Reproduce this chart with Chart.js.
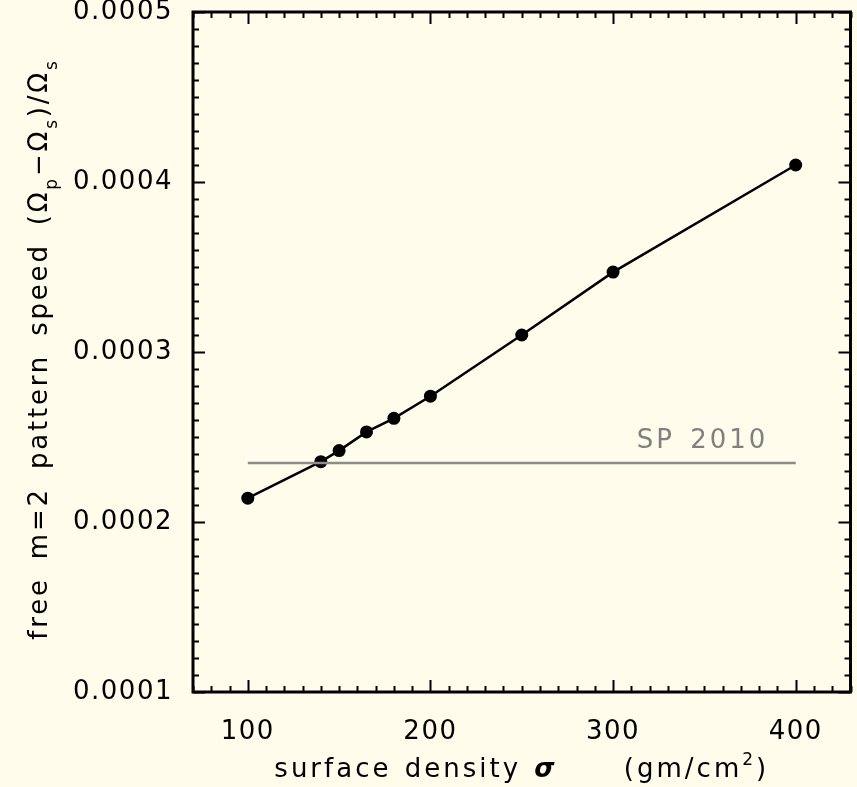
<!DOCTYPE html>
<html lang="en">
<head>
<meta charset="UTF-8">
<title>Pattern speed vs surface density</title>
<script src="https://cdn.jsdelivr.net/npm/chart.js"></script>
<style>
  html, body { margin: 0; padding: 0; background: #fffcec; }
  #wrap { width: 857px; height: 787px; }
</style>
</head>
<body>
<div id="wrap"><canvas id="chart" width="857" height="787"></canvas></div>
<script>
// surface density (gm/cm^2) and free m=2 pattern speed
const sigma = [100, 140, 150, 165, 180, 200, 250, 300, 400];
const patternSpeed = [0.000214, 0.0002355, 0.000242, 0.000253, 0.000261, 0.000274, 0.00031, 0.000347, 0.00041];

// SP 2010 reference level
const spSigma = [100, 400];
const spLevel = [0.0002347, 0.0002347];
const spLabel = 'SP 2010';

const xTicks = [100, 200, 300, 400];
const yTicks = [0.0001, 0.0002, 0.0003, 0.0004, 0.0005];

const FONT = '"DejaVu Sans", sans-serif';

// slightly wide lettering for tick labels
const spacingPlugin = {
  id: 'spacing',
  beforeDraw(chart) { chart.ctx.letterSpacing = '1.5px'; }
};

// frame with inward ticks on all four sides, plus axis titles
const framePlugin = {
  id: 'frame',
  afterDraw(chart) {
    const { ctx, chartArea: a, scales: { x, y } } = chart;
    ctx.save();
    ctx.strokeStyle = '#000';
    ctx.lineWidth = 2;
    ctx.beginPath();
    for (let v = 70; v <= 430; v += 10) {
      const px = Math.round(x.getPixelForValue(v)) + 0.5;
      const len = v % 100 === 0 ? 12 : 6;
      ctx.moveTo(px, a.bottom); ctx.lineTo(px, a.bottom - len);
      ctx.moveTo(px, a.top); ctx.lineTo(px, a.top + len);
    }
    for (let i = 10; i <= 50; i++) {
      const py = Math.round(y.getPixelForValue(i * 0.00001)) + 0.5;
      const len = i % 10 === 0 ? 12 : 6;
      ctx.moveTo(a.left, py); ctx.lineTo(a.left + len, py);
      ctx.moveTo(a.right, py); ctx.lineTo(a.right - len, py);
    }
    ctx.stroke();
    ctx.lineWidth = 3;
    ctx.strokeRect(a.left, a.top, a.right - a.left, a.bottom - a.top);

    // SP 2010 label
    ctx.letterSpacing = '3px';
    ctx.wordSpacing = '4px';
    ctx.fillStyle = '#808080';
    ctx.font = '26px ' + FONT;
    ctx.textAlign = 'center';
    ctx.textBaseline = 'alphabetic';
    ctx.fillText(spLabel, x.getPixelForValue(349), y.getPixelForValue(spLevel[0]) - 15);

    ctx.fillStyle = '#000';
    // x title
    ctx.letterSpacing = '3px';
    ctx.wordSpacing = '2px';
    const xParts = [
      { t: 'surface density ', f: '26px ' + FONT },
      { t: 'σ', f: 'italic bold 26px ' + FONT },
      { t: '     (gm/cm', f: '26px ' + FONT },
      { t: '2', f: '17px ' + FONT, dy: -12 },
      { t: ')', f: '26px ' + FONT }
    ];
    drawParts(ctx, xParts, (a.left + a.right) / 2, 777);

    // y title, rotated
    ctx.letterSpacing = '2.8px';
    ctx.wordSpacing = '7px';
    ctx.save();
    ctx.translate(47, 349);
    ctx.rotate(-Math.PI / 2);
    const yParts = [
      { t: 'free m=2 pattern speed (Ω', f: '26px ' + FONT },
      { t: 'p', f: '17px ' + FONT, dy: 10 },
      { t: '−Ω', f: '26px ' + FONT },
      { t: 's', f: '17px ' + FONT, dy: 10 },
      { t: ')/Ω', f: '26px ' + FONT },
      { t: 's', f: '17px ' + FONT, dy: 10 }
    ];
    drawParts(ctx, yParts, 0, 0);
    ctx.restore();
    ctx.restore();
  }
};

function drawParts(ctx, parts, cx, baseY) {
  ctx.textAlign = 'left';
  ctx.textBaseline = 'alphabetic';
  let total = 0;
  parts.forEach(p => { ctx.font = p.f; p.w = ctx.measureText(p.t).width; total += p.w; });
  let px = cx - total / 2;
  parts.forEach(p => {
    ctx.font = p.f;
    ctx.fillText(p.t, px, baseY + (p.dy || 0));
    px += p.w;
  });
}

new Chart(document.getElementById('chart'), {
  type: 'scatter',
  data: {
    datasets: [
      {
        label: spLabel,
        data: spSigma.map((s, i) => ({ x: s, y: spLevel[i] })),
        showLine: true,
        borderColor: '#8c8c8c',
        borderWidth: 2.5,
        pointRadius: 0
      },
      {
        label: 'pattern speed',
        data: sigma.map((s, i) => ({ x: s, y: patternSpeed[i] })),
        showLine: true,
        borderColor: '#000',
        borderWidth: 2.5,
        backgroundColor: '#000',
        pointRadius: 6.5,
        pointBorderWidth: 0
      }
    ]
  },
  options: {
    responsive: false,
    animation: false,
    layout: { padding: { top: 12, right: 4, left: 0, bottom: 0 } },
    plugins: { legend: { display: false }, tooltip: { enabled: false } },
    scales: {
      x: {
        type: 'linear',
        min: 70,
        max: 430,
        grid: { display: false },
        border: { display: false },
        afterBuildTicks: s => { s.ticks = xTicks.map(v => ({ value: v })); },
        afterFit: s => { s.height = 95; s.paddingLeft = 0; s.paddingRight = 0; },
        ticks: { color: '#000', padding: 17, font: { family: FONT, size: 26 }, maxRotation: 0 }
      },
      y: {
        type: 'linear',
        min: 0.0001,
        max: 0.0005,
        grid: { display: false },
        border: { display: false },
        afterBuildTicks: s => { s.ticks = yTicks.map(v => ({ value: v })); },
        afterFit: s => { s.width = 193; s.paddingTop = 0; s.paddingBottom = 0; },
        ticks: { color: '#000', padding: 12, font: { family: FONT, size: 26 }, callback: v => v.toFixed(4) }
      }
    }
  },
  plugins: [spacingPlugin, framePlugin]
});
</script>
</body>
</html>
